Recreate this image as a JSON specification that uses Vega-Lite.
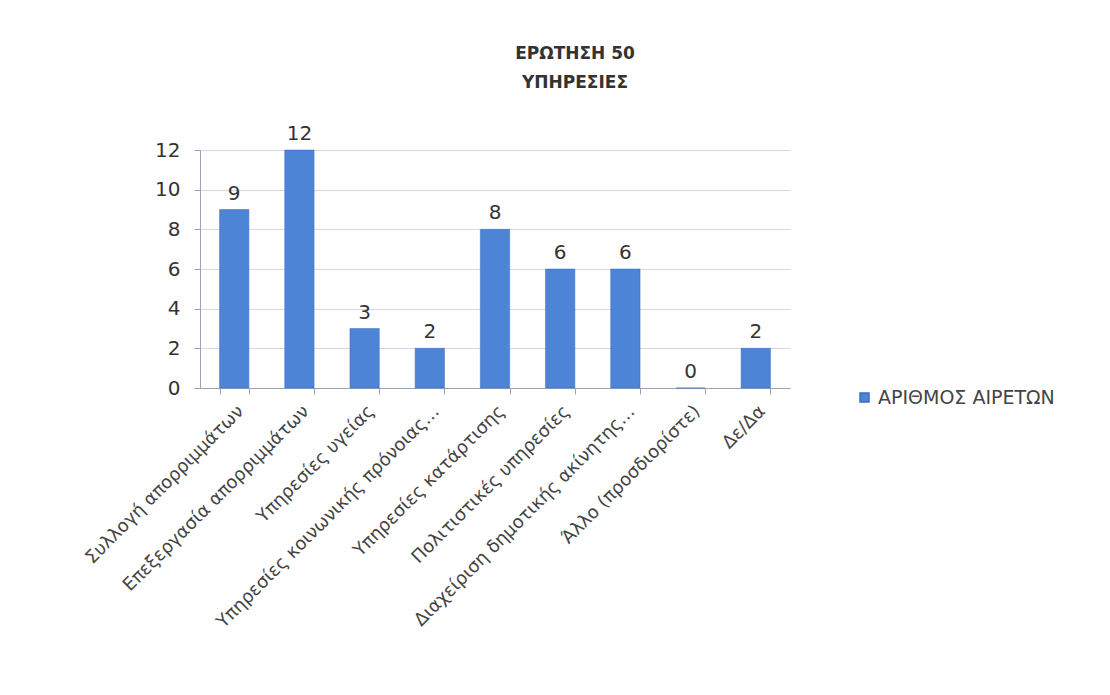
{
  "$schema": "https://vega.github.io/schema/vega-lite/v6.json",
  "autosize": {"type": "none"},
  "width": 590,
  "height": 238,
  "padding": {"left": 200, "top": 150, "right": 320, "bottom": 307},
  "background": "white",
  "title": {
    "text": ["ΕΡΩΤΗΣΗ 50", "ΥΠΗΡΕΣΙΕΣ"],
    "font": "DejaVu Sans",
    "fontSize": 17,
    "fontWeight": "bold",
    "color": "#333333",
    "anchor": "middle",
    "dx": 80,
    "offset": 32,
    "lineHeight": 29
  },
  "config": {
    "view": {"stroke": null},
    "font": "DejaVu Sans"
  },
  "data": {
    "values": [
      {"cat": "Συλλογή απορριμμάτων", "value": 9, "series": "ΑΡΙΘΜΟΣ ΑΙΡΕΤΩΝ"},
      {"cat": "Επεξεργασία απορριμμάτων", "value": 12, "series": "ΑΡΙΘΜΟΣ ΑΙΡΕΤΩΝ"},
      {"cat": "Υπηρεσίες υγείας", "value": 3, "series": "ΑΡΙΘΜΟΣ ΑΙΡΕΤΩΝ"},
      {"cat": "Υπηρεσίες κοινωνικής πρόνοιας…", "value": 2, "series": "ΑΡΙΘΜΟΣ ΑΙΡΕΤΩΝ"},
      {"cat": "Υπηρεσίες κατάρτισης", "value": 8, "series": "ΑΡΙΘΜΟΣ ΑΙΡΕΤΩΝ"},
      {"cat": "Πολιτιστικές υπηρεσίες", "value": 6, "series": "ΑΡΙΘΜΟΣ ΑΙΡΕΤΩΝ"},
      {"cat": "Διαχείριση δημοτικής ακίνητης…", "value": 6, "series": "ΑΡΙΘΜΟΣ ΑΙΡΕΤΩΝ"},
      {"cat": "Άλλο (προσδιορίστε)", "value": 0, "series": "ΑΡΙΘΜΟΣ ΑΙΡΕΤΩΝ"},
      {"cat": "Δε/Δα", "value": 2, "series": "ΑΡΙΘΜΟΣ ΑΙΡΕΤΩΝ"}
    ]
  },
  "encoding": {
    "x": {
      "field": "cat",
      "type": "nominal",
      "sort": null,
      "title": null,
      "scale": {"paddingInner": 0.55, "paddingOuter": 0.3},
      "axis": {
        "labelAngle": -45,
        "labelFontSize": 18,
        "labelColor": "#444444",
        "labelLimit": 400,
        "labelPadding": 8,
        "domainColor": "#9aa3b5",
        "tickColor": "#9aa3b5",
        "tickBand": "extent",
        "tickSize": 6
      }
    },
    "y": {
      "field": "value",
      "type": "quantitative",
      "title": null,
      "scale": {"domain": [0, 12]},
      "axis": {
        "values": [0, 2, 4, 6, 8, 10, 12],
        "labelFontSize": 20,
        "labelColor": "#333333",
        "labelPadding": 14,
        "domainColor": "#9aa3b5",
        "tickColor": "#9aa3b5",
        "gridColor": "#d4d8e0",
        "tickSize": 6
      }
    }
  },
  "layer": [
    {
      "mark": {"type": "bar", "stroke": "#3a6cc0", "strokeWidth": 0.5},
      "encoding": {
        "color": {
          "field": "series",
          "type": "nominal",
          "scale": {"range": ["#4d84d6"]},
          "legend": {
            "title": null,
            "orient": "none",
            "legendX": 655,
            "legendY": 238,
            "symbolType": "square",
            "symbolSize": 80,
            "labelFontSize": 19,
            "labelLimit": 400,
            "labelColor": "#444444"
          }
        }
      }
    },
    {
      "mark": {"type": "text", "dy": -16, "fontSize": 20, "color": "#333333"},
      "encoding": {"text": {"field": "value", "type": "quantitative"}}
    }
  ]
}
